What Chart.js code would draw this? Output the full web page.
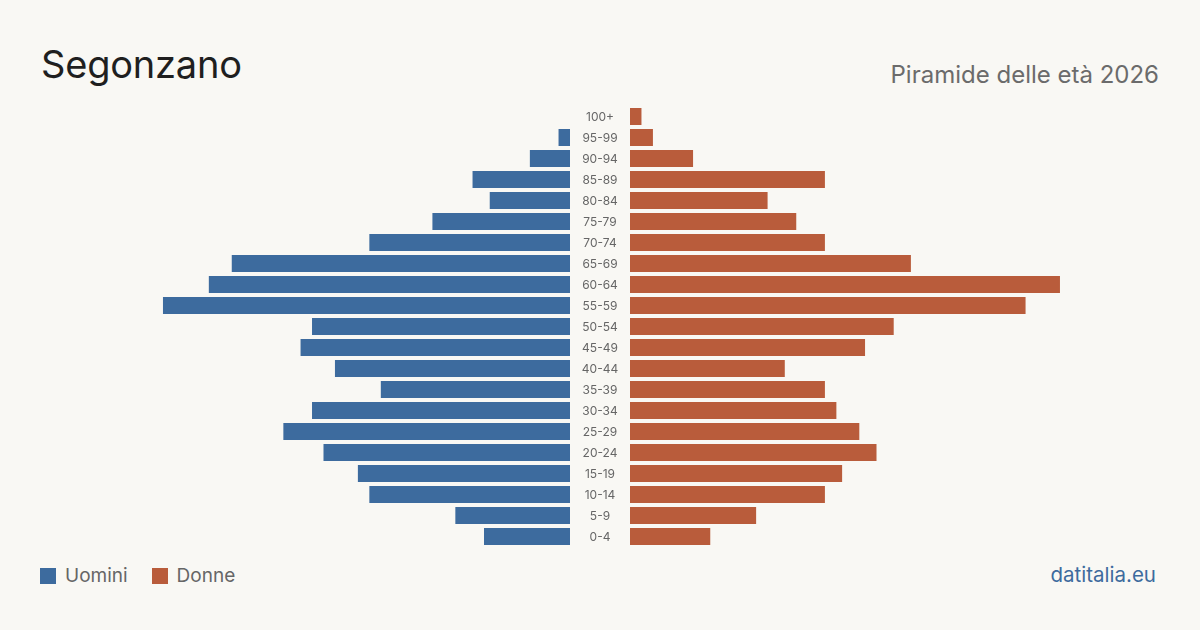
<!DOCTYPE html>
<html>
<head>
<meta charset="utf-8">
<script src="https://cdn.jsdelivr.net/npm/chart.js@4/dist/chart.umd.min.js"></script>
<style>
  html, body { margin: 0; padding: 0; }
  body { width: 1200px; height: 630px; background: #f9f8f4; position: relative; overflow: hidden; font-family: Inter, "Noto Sans", sans-serif; }
  #title { position: absolute; left: 41px; top: 45px; font-size: 38px; color: #1f1f1f; line-height: 1; letter-spacing: -0.2px; }
  #subtitle { position: absolute; right: 41px; top: 63px; font-size: 24px; color: #6b6b6b; line-height: 1; }
  .box { position: absolute; }
  #legend { position: absolute; left: 40px; top: 566px; font-size: 19px; color: #666; display: flex; align-items: center; line-height: 1; }
  .sw { width: 16px; height: 16px; display: inline-block; margin-right: 9px; }
  .item { display: flex; align-items: center; margin-right: 24px; }
  #brand { position: absolute; right: 44px; top: 565px; font-size: 20.5px; color: #3d6b9e; line-height: 1; }
</style>
</head>
<body>
<div id="title">Segonzano</div>
<div id="subtitle">Piramide delle età 2026</div>
<div class="box" style="left:40px; top:106px; width:530px; height:441px;"><canvas id="left"></canvas></div>
<div class="box" style="left:570px; top:106px; width:590px; height:441px;"><canvas id="right"></canvas></div>
<div id="legend">
  <div class="item"><span class="sw" style="background:#3d6b9e"></span>Uomini</div>
  <div class="item"><span class="sw" style="background:#b95c3b"></span>Donne</div>
</div>
<div id="brand">datitalia.eu</div>
<script>
const ageGroups = ["100+","95-99","90-94","85-89","80-84","75-79","70-74","65-69","60-64","55-59","50-54","45-49","40-44","35-39","30-34","25-29","20-24","15-19","10-14","5-9","0-4"];
const males   = [0, 2, 7, 17, 14, 24, 35, 59, 63, 71, 45, 47, 41, 33, 45, 50, 43, 37, 35, 20, 15];
const females = [2, 4, 11, 34, 24, 29, 34, 49, 75, 69, 46, 41, 27, 34, 36, 40, 43, 37, 34, 22, 14];
const axisMax = 92.45;

const blue = "#3d6b9e";
const orange = "#b95c3b";

function baseOptions(reverse, padLeft) {
  return {
    indexAxis: 'y',
    responsive: true,
    maintainAspectRatio: false,
    animation: false,
    layout: { padding: { left: padLeft, right: 0, top: 0, bottom: 0 } },
    plugins: { legend: { display: false }, tooltip: { enabled: false } },
    scales: {
      x: { display: false, min: 0, max: axisMax, reverse: reverse },
      y: { display: false, offset: true }
    }
  };
}

const ageLabelPlugin = {
  id: 'ageLabels',
  afterDraw(chart) {
    const ctx = chart.ctx;
    const y = chart.scales.y;
    const cx = chart.chartArea.left - 30;
    ctx.save();
    ctx.font = "12px Inter, 'Noto Sans', sans-serif";
    ctx.fillStyle = "#666";
    ctx.textAlign = "center";
    ctx.textBaseline = "middle";
    ageGroups.forEach((lab, i) => {
      ctx.fillText(lab, cx, y.getPixelForValue(i) + 1);
    });
    ctx.restore();
  }
};

new Chart(document.getElementById('left'), {
  type: 'bar',
  data: {
    labels: ageGroups,
    datasets: [{ label: 'Uomini', data: males, backgroundColor: blue, borderWidth: 0, categoryPercentage: 1, barPercentage: 0.81 }]
  },
  options: baseOptions(true, 0)
});

new Chart(document.getElementById('right'), {
  type: 'bar',
  data: {
    labels: ageGroups,
    datasets: [{ label: 'Donne', data: females, backgroundColor: orange, borderWidth: 0, categoryPercentage: 1, barPercentage: 0.81 }]
  },
  options: baseOptions(false, 60),
  plugins: [ageLabelPlugin]
});
</script>
</body>
</html>
